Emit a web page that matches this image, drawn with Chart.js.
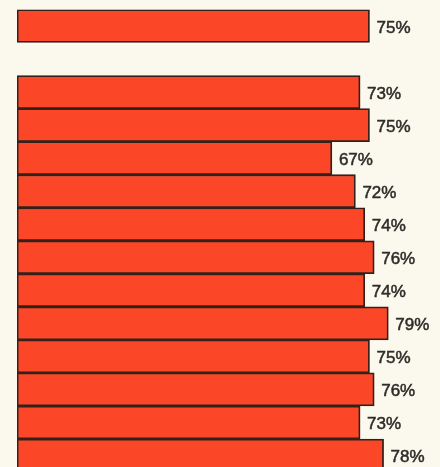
<!DOCTYPE html>
<html>
<head>
<meta charset="UTF-8" />
<script src="https://cdn.jsdelivr.net/npm/chart.js"></script>
<style>
  html, body { margin: 0; padding: 0; background: #fbf9ee; overflow: hidden; }
  #chart { display: block; }
</style>
</head>
<body>
<canvas id="chart" width="440" height="472"></canvas>
<script>
// data
const categories = ['Total', '', 'G1', 'G2', 'G3', 'G4', 'G5', 'G6', 'G7', 'G8', 'G9', 'G10', 'G11', 'G12'];
const totalShare = [75];
const groupShares = [73, 75, 67, 72, 74, 76, 74, 79, 75, 76, 73, 78];
const xTicks = [0, 90];

const values = [...totalShare, null, ...groupShares];

// percent labels right of the bars
const valueLabels = {
    id: 'valueLabels',
    afterDatasetsDraw(chart) {
        const ctx = chart.ctx;
        const meta = chart.getDatasetMeta(0);
        ctx.save();
        ctx.font = '17px "Liberation Sans", Arial, sans-serif';
        ctx.fillStyle = '#2f2b28';
        ctx.strokeStyle = '#2f2b28';
        ctx.lineWidth = 0.5;
        ctx.textBaseline = 'middle';
        meta.data.forEach((bar, i) => {
            const v = values[i];
            if (v == null) return;
            const txt = v + '%';
            ctx.fillText(txt, bar.x + 7, bar.y + 2);
            ctx.strokeText(txt, bar.x + 7, bar.y + 2);
        });
        ctx.restore();
    }
};

new Chart(document.getElementById('chart'), {
    type: 'bar',
    data: {
        labels: categories,
        datasets: [{
            data: values,
            backgroundColor: '#fb4728',
            borderColor: '#33201a',
            borderWidth: 1.8,
            borderSkipped: false,
            barPercentage: 1,
            categoryPercentage: 1
        }]
    },
    options: {
        indexAxis: 'y',
        responsive: false,
        animation: false,
        layout: { padding: { left: 17, top: 9.5, right: 0, bottom: 0 } },
        plugins: { legend: { display: false }, tooltip: { enabled: false } },
        scales: {
            x: { display: false, min: xTicks[0], max: xTicks[1] },
            y: { display: false }
        }
    },
    plugins: [valueLabels]
});
</script>
</body>
</html>
